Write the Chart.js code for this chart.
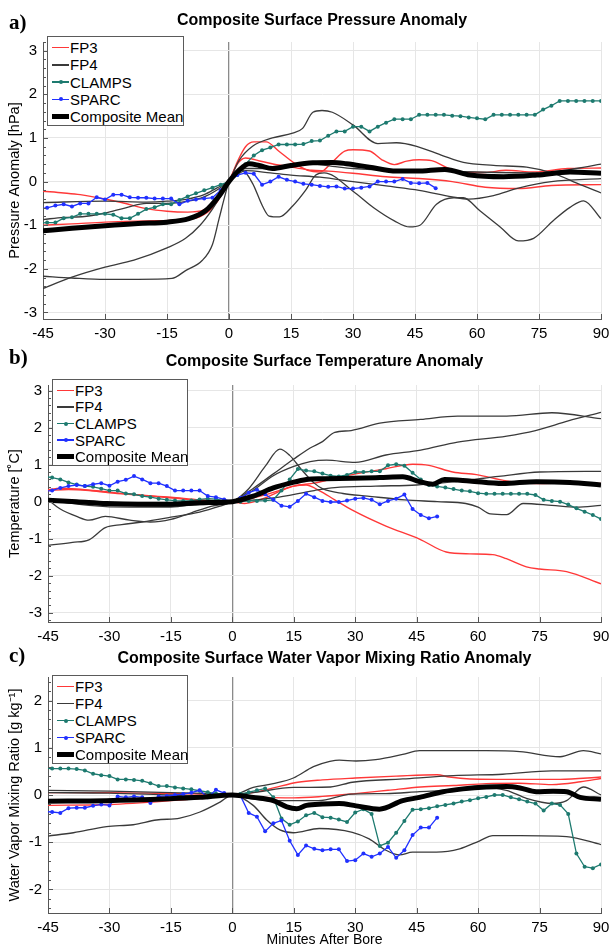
<!DOCTYPE html>
<html lang="en">
<head>
<meta charset="UTF-8">
<title>Composite Surface Anomalies</title>
<script src="https://cdn.jsdelivr.net/npm/chart.js"></script>
<style>
  body { margin: 0; background: #fff; font-family: 'Liberation Sans', Arial, sans-serif; color: #000; }
  .page { position: relative; width: 616px; height: 949px; overflow: hidden; }
  canvas { position: absolute; left: 0; }
  .tag { position: absolute; left: 9px; font-family: 'Liberation Serif', 'Times New Roman', serif; font-weight: bold; font-size: 21px; line-height: 1; transform: translateY(-50%); }
  .title { position: absolute; font-weight: bold; font-size: 16px; white-space: nowrap; transform: translate(-50%, -50%); }
  .legend { position: absolute; background: #fff; border: 1px solid #5a5a5a; box-sizing: border-box; }
  .row { position: absolute; left: 0; right: 0; height: 17px; font-size: 15px; line-height: 17px; white-space: nowrap; }
  .row span.txt { position: absolute; left: 22px; top: 0; }
  .sw { position: absolute; left: 4px; width: 17px; top: 50%; }
  .dot { position: absolute; left: 6.5px; width: 4px; height: 4px; border-radius: 50%; }
</style>
</head>
<body>
<div class="page" id="page"></div>

<script>
// ---- series labels & tick settings ----
const seriesLabels = ['FP3', 'FP4', 'CLAMPS', 'SPARC', 'Composite Mean'];
const xTicks = [-45, -30, -15, 0, 15, 30, 45, 60, 75, 90];

// CLAMPS / SPARC sampled every 2 min starting at -46 min
const sampleStart = -46;
const sampleStep = 2;

// ---- (a) surface pressure anomaly [hPa] ----
const pFP3 = [
  [[-45,-0.22],[-40,-0.26],[-36,-0.3],[-30,-0.4],[-26,-0.48],[-20,-0.62],[-15,-0.68],[-10,-0.7],[-6,-0.65],[-3,-0.48],[-1,-0.15],[0,0],[2,0.45],[4,0.8],[6,0.91],[9,0.91],[12,0.7],[16,0.41],[19,0.26],[22,0.22],[25,0.45],[28,0.7],[30,0.73],[34,0.7],[37,0.5],[40,0.39],[43,0.47],[46,0.5],[49,0.48],[53,0.31],[57,0.22],[62,0.21],[67,0.26],[74,0.22],[82,0.3],[90,0.31]],
  [[-45,-1.0],[-38,-0.97],[-30,-0.93],[-20,-0.9],[-12,-0.88],[-7,-0.8],[-4,-0.6],[-2,-0.3],[0,0],[2,0.4],[4,0.54],[8,0.46],[12,0.38],[16,0.32],[20,0.26],[24,0.24],[30,0.19],[38,0.11],[46,0.07],[54,0.0],[62,-0.13],[70,-0.16],[78,-0.09],[90,-0.07]]
];
const pFP4 = [
  [[-45,-2.45],[-38,-2.19],[-30,-1.96],[-23,-1.8],[-15,-1.52],[-10.5,-1.3],[-7,-1.0],[-4,-0.63],[-1.6,-0.26],[0,0],[2.4,0.48],[5.7,0.81],[10.5,1.0],[15.4,1.11],[17.8,1.22],[20.3,1.59],[22.5,1.63],[25,1.59],[30,1.3],[36,0.87],[40.5,0.89],[45.4,0.81],[51.8,0.59],[56.7,0.44],[64,0.37],[72,0.33],[78.5,0.19],[85,-0.07],[90,-0.26]],
  [[-45,-2.17],[-38,-2.21],[-30,-2.24],[-22,-2.24],[-13.8,-2.22],[-10.5,-2.04],[-6.5,-1.81],[-4,-1.44],[-2.4,-0.85],[-0.8,-0.26],[0,0],[3.2,0.26],[5.7,-0.04],[8.1,-0.56],[9.7,-0.79],[12.2,-0.81],[15.4,-0.56],[18.6,-0.19],[21,0.15],[23,0.2],[30,-0.22],[35,-0.6],[40,-0.9],[43.7,-1.04],[46.2,-1.0],[50.2,-0.52],[54.3,-0.37],[56.7,-0.37],[60.7,-0.67],[65.6,-1.04],[70,-1.36],[73.7,-1.3],[78.5,-0.89],[82.5,-0.59],[85.8,-0.44],[90,-0.85]],
  [[-45,-0.48],[-30,-0.45],[-20,-0.47],[-15,-0.45],[-10,-0.4],[-6,-0.3],[-3,-0.15],[0,0],[4,0.25],[10,0.2],[15,0.15],[22,0.1],[30,0.0],[38,-0.1],[46,-0.2],[54,-0.35],[58,-0.4],[64,-0.32],[70,-0.15],[78,0.0],[90,0.07]],
  [[-45,-0.87],[-40,-0.82],[-35,-0.8],[-30,-0.72],[-25,-0.6],[-20,-0.5],[-15,-0.5],[-10,-0.45],[-6,-0.35],[-3,-0.2],[0,0],[4,0.3],[10,0.3],[15,0.35],[20,0.4],[25,0.35],[30,0.3],[45,0.25],[60,0.22],[75,0.2],[84,0.3],[90,0.4]]
];
const pCLAMPS = [-0.95,-0.94,-0.94,-0.84,-0.82,-0.74,-0.74,-0.74,-0.74,-0.76,
  -0.84,-0.84,-0.74,-0.63,-0.59,-0.52,-0.52,-0.42,-0.34,-0.27,
  -0.2,-0.14,-0.07,0,0.15,0.4,0.6,0.72,0.78,0.85,
  0.85,0.85,0.86,0.93,0.94,1.05,1.15,1.15,1.26,1.26,
  1.15,1.26,1.35,1.43,1.43,1.43,1.53,1.53,1.53,1.53,
  1.51,1.5,1.47,1.45,1.43,1.53,1.53,1.53,1.53,1.53,
  1.53,1.65,1.74,1.85,1.85,1.85,1.85,1.85,1.85];
const pSPARC = [-0.63,-0.6,-0.55,-0.52,-0.57,-0.5,-0.5,-0.36,-0.41,-0.3,
  -0.3,-0.36,-0.37,-0.37,-0.39,-0.39,-0.39,-0.52,-0.44,-0.41,
  -0.39,-0.37,-0.2,0,0.15,0.2,0.18,-0.07,0.0,0.11,
  0.04,0.0,-0.05,-0.07,-0.1,-0.12,-0.11,-0.16,-0.16,-0.14,
  -0.11,0.0,0.0,0.0,0.06,-0.03,-0.04,-0.03,-0.15];
const pMean = [[-45,-1.13],[-38,-1.07],[-30,-1.01],[-22,-0.96],[-15,-0.93],[-9.7,-0.85],[-5.7,-0.67],[-2.4,-0.33],[0,0],[2.4,0.26],[4.9,0.41],[7.3,0.37],[10.5,0.3],[15,0.37],[20.3,0.43],[25,0.44],[28.4,0.41],[34,0.33],[40.5,0.24],[45.4,0.24],[52.2,0.28],[58.3,0.15],[66.4,0.11],[74.5,0.15],[82.5,0.22],[90,0.19]];

// ---- (b) surface temperature anomaly [C] ----
const tFP3 = [
  [[-45,0.3],[-40,0.33],[-35,0.3],[-30,0.24],[-22,0.17],[-14,0.09],[-8,0.03],[0,0],[5,0.1],[10,0.25],[15,0.42],[18,0.45],[21.2,0.3],[25,0.05],[29.3,-0.23],[37.5,-0.66],[45.7,-1.01],[52.2,-1.36],[57.9,-1.41],[63.6,-1.43],[66.9,-1.54],[71.8,-1.76],[75,-1.82],[81.6,-1.89],[90,-2.22]],
  [[-45,0.32],[-42,0.36],[-38,0.34],[-32,0.28],[-25,0.2],[-15,0.12],[-8,0.05],[0,0],[3,-0.05],[8,0.1],[12,0.3],[15,0.42],[20,0.5],[24,0.6],[29.3,0.73],[37.5,0.89],[44,1.01],[48,0.98],[53.8,0.8],[59.6,0.73],[66.9,0.56],[74.2,0.49],[82,0.5],[90,0.49]]
];
const tFP4 = [
  [[-45,-1.18],[-39,-1.1],[-35,-1.03],[-31,-0.7],[-27,-0.62],[-22,-0.55],[-15,-0.42],[-8,-0.28],[-3,-0.12],[0,0],[5,0.35],[10,0.75],[15,1.15],[19,1.45],[22,1.62],[25,1.87],[29,1.92],[36,2.12],[46,2.22],[55,2.31],[67,2.31],[78,2.4],[90,2.24]],
  [[-45,0.05],[-42,-0.2],[-38,-0.4],[-35,-0.5],[-31,-0.4],[-25,-0.5],[-20,-0.55],[-15,-0.48],[-10,-0.3],[-5,-0.12],[0,0],[4,0.35],[8,0.95],[11.6,1.42],[14,1.25],[17,0.85],[20,0.5],[22,0.35],[27,0.22],[33,0.15],[42,0.05],[50,0.0],[57,-0.05],[60,-0.15],[63,-0.33],[67,-0.35],[71,-0.05],[78,-0.1],[84,-0.15],[90,-0.1]],
  [[-45,0.0],[-35,-0.05],[-25,-0.1],[-15,-0.12],[-8,-0.08],[0,0],[5,0.3],[10,0.7],[15,0.95],[19,1.08],[23,1.12],[30,1.06],[37.5,1.26],[46,1.39],[55,1.61],[67,1.77],[74,1.92],[82,2.18],[90,2.41]],
  [[-45,0.05],[-35,-0.1],[-25,-0.15],[-15,-0.15],[-8,-0.05],[0,0],[10,0.1],[20,0.3],[25,0.38],[35,0.42],[45,0.45],[55,0.55],[65,0.68],[75,0.8],[90,0.82]]
];
const tCLAMPS = [0.68,0.65,0.6,0.52,0.46,0.42,0.4,0.35,0.3,0.3,
  0.22,0.2,0.15,0.12,0.08,0.05,0.03,0.02,0.03,0.06,
  0.08,0.07,0.03,0,0.0,0.02,0.02,0.03,0.05,0.3,
  0.6,0.88,0.84,0.82,0.76,0.7,0.68,0.72,0.8,0.8,
  0.82,0.82,0.98,1.01,0.97,0.78,0.6,0.45,0.41,0.38,
  0.34,0.3,0.28,0.23,0.21,0.21,0.21,0.21,0.21,0.21,
  0.18,0.05,0.02,0.0,-0.08,-0.18,-0.27,-0.36,-0.47];
const tSPARC = [0.28,0.3,0.37,0.42,0.45,0.42,0.47,0.5,0.43,0.54,
  0.59,0.69,0.6,0.5,0.5,0.42,0.3,0.3,0.3,0.3,
  0.15,0.12,0.06,0,0.1,0.24,0.32,0.2,0.05,-0.11,
  -0.14,0.02,0.21,0.12,0.02,-0.01,-0.01,0.03,0.08,0.1,
  0.05,-0.07,0.02,0.08,0.19,-0.2,-0.36,-0.45,-0.4];
const tMean = [[-45,0.04],[-38,0.0],[-30.7,-0.05],[-23,-0.07],[-15.6,-0.07],[-7.9,-0.03],[0,0],[5.1,0.15],[10,0.37],[14.1,0.5],[18.1,0.6],[22,0.62],[29.3,0.63],[36,0.65],[41.6,0.67],[45.7,0.54],[48.9,0.47],[51.8,0.6],[57.9,0.56],[66,0.49],[74.2,0.54],[82.4,0.52],[90,0.45]];

// ---- (c) surface water vapor mixing ratio anomaly [g/kg] ----
const qFP3 = [
  [[-45,0.05],[-30,0.05],[-15,0.03],[-5,0.02],[0,0],[5,0.05],[10,0.15],[16,0.27],[22,0.32],[30,0.36],[40,0.4],[50,0.43],[53,0.38],[58,0.34],[70,0.33],[80,0.33],[90,0.38]],
  [[-45,-0.22],[-30,-0.2],[-15,-0.12],[-5,-0.05],[0,0],[8,-0.05],[15,-0.06],[22,-0.03],[30,0.03],[38,0.1],[46,0.17],[54,0.2],[62,0.24],[70,0.25],[78,0.22],[85,0.28],[90,0.35]]
];
const qFP4 = [
  [[-45,0.1],[-30,0.08],[-15,0.05],[-5,0.03],[0,0],[5.1,0.16],[10,0.24],[14.9,0.36],[19.8,0.6],[23.8,0.71],[26.1,0.74],[30.2,0.72],[35,0.75],[41.6,0.86],[45.7,0.94],[54,0.94],[62,0.94],[70.2,0.92],[80,0.81],[85.7,0.94],[90,0.87]],
  [[-45,0.05],[-30,0.04],[-15,0.0],[-5,-0.02],[0,0],[5,0.05],[15,0.16],[24,0.17],[29.3,0.27],[41.6,0.34],[54,0.41],[66,0.44],[78,0.51],[90,0.51]],
  [[-45,-0.1],[-30,-0.1],[-15,-0.05],[0,0],[5,-0.08],[12,-0.12],[21,-0.12],[29,0.02],[37.5,0.03],[45.7,0.07],[55.5,0.11],[62,0.15],[66.9,0.1],[71.8,-0.07],[78.3,-0.18],[81.6,-0.12],[85.7,0.17],[90,0.0]],
  [[-45,-0.87],[-38.8,-0.8],[-30.7,-0.67],[-24.2,-0.63],[-18.5,-0.53],[-12.8,-0.49],[-7.9,-0.36],[-3,-0.15],[0,0],[5.1,-0.22],[8.4,-0.53],[11.6,-0.74],[14.9,-0.8],[21.2,-0.71],[29.3,-0.79],[33.4,-0.93],[37.5,-1.17],[40.8,-1.27],[44,-1.21],[49.8,-1.21],[55.5,-1.14],[60.4,-0.97],[63.6,-0.86],[70.2,-0.86],[81.6,-0.88],[90,-1.05]]
];
const qCLAMPS = [0.57,0.56,0.56,0.56,0.55,0.52,0.45,0.42,0.4,0.33,
  0.33,0.32,0.3,0.25,0.19,0.19,0.16,0.14,0.12,0.09,
  0.06,0.03,0.02,0,0.02,0.06,0.1,0.14,-0.05,-0.5,
  -0.63,-0.56,-0.43,-0.38,-0.47,-0.48,-0.52,-0.57,-0.37,-0.3,
  -0.4,-1.08,-1.01,-0.8,-0.55,-0.31,-0.3,-0.28,-0.24,-0.21,
  -0.18,-0.14,-0.11,-0.07,-0.04,0.0,0.0,-0.05,-0.09,-0.14,
  -0.18,-0.33,-0.18,-0.21,-0.4,-1.24,-1.52,-1.55,-1.47];
const qSPARC = [-0.35,-0.36,-0.38,-0.28,-0.27,-0.27,-0.23,-0.2,-0.22,-0.03,
  -0.05,-0.03,-0.05,-0.17,-0.03,-0.02,0.0,0.02,0.05,0.1,
  -0.05,0.11,0.04,0,-0.02,-0.38,-0.46,-0.77,-0.6,-0.54,
  -0.97,-1.27,-1.07,-1.14,-1.17,-1.15,-1.15,-1.4,-1.38,-1.24,
  -1.31,-1.24,-1.1,-1.33,-1.17,-0.85,-0.69,-0.69,-0.48];
const qMean = [[-45,-0.13],[-30.7,-0.12],[-15.6,-0.08],[-7.9,-0.05],[0,0],[5.1,-0.05],[10,-0.12],[13.3,-0.25],[15.7,-0.29],[18.1,-0.22],[22,-0.19],[26.1,-0.18],[30.2,-0.23],[35.9,-0.3],[41.6,-0.12],[45.7,-0.05],[51.4,0.07],[56.3,0.13],[62,0.17],[66.9,0.18],[70.2,0.15],[74.2,0.07],[78.3,0.08],[81.6,0.07],[84.9,-0.05],[90,-0.09]];

// ---- styling ----
const colors = { fp3: '#ff3838', fp4: '#3a3a3a', clamps: '#1d7a6f', sparc: '#2030ff', mean: '#000000' };

// panel layout (page pixels)
const panels = [
  { tag: 'a)', title: 'Composite Surface Pressure Anomaly', tagY: 22, titleY: 20,
    top: 27, height: 318, padTop: 5, yWidth: 43, xHeight: 26, ymin: -3.15, ymax: 3.2,
    ylabel: 'Pressure Anomaly [hPa]', xlabel: '',
    fp3: pFP3, fp4: pFP4, clamps: pCLAMPS, sparc: pSPARC, mean: pMean,
    legend: { left: 47, top: 36, width: 137, height: 90 } },
  { tag: 'b)', title: 'Composite Surface Temperature Anomaly', tagY: 357, titleY: 361,
    top: 370, height: 282, padTop: 8, yWidth: 48, xHeight: 30, ymin: -3.25, ymax: 3.15,
    ylabel: 'Temperature [\u02DAC]', xlabel: '',
    fp3: tFP3, fp4: tFP4, clamps: tCLAMPS, sparc: tSPARC, mean: tMean,
    legend: { left: 52, top: 379, width: 136, height: 87 } },
  { tag: 'c)', title: 'Composite Surface Water Vapor Mixing Ratio Anomaly', tagY: 655, titleY: 658,
    top: 662, height: 287, padTop: 8, yWidth: 48, xHeight: 36, ymin: -2.5, ymax: 2.5,
    ylabel: 'Water Vapor Mixing Ratio [g kg\u207B\u00B9]', xlabel: 'Minutes After Bore',
    fp3: qFP3, fp4: qFP4, clamps: qCLAMPS, sparc: qSPARC, mean: qMean,
    legend: { left: 52, top: 675, width: 136, height: 89 } }
];

Chart.defaults.font.family = "'Liberation Sans', Arial, sans-serif";
Chart.defaults.color = '#000';

function pairsToPoints(pairs) { return pairs.map(p => ({ x: p[0], y: p[1] })); }
function sampled(vals) { return vals.map((v, i) => ({ x: sampleStart + i * sampleStep, y: v })); }

// MATLAB-style inward tick marks (minor every 0.2 on y)
const innerTicks = {
  id: 'innerTicks',
  afterDatasetsDraw(chart) {
    const { ctx, chartArea, scales } = chart;
    const x = scales.x, y = scales.y;
    ctx.save();
    ctx.strokeStyle = '#555';
    ctx.lineWidth = 1;
    ctx.beginPath();
    for (let k = Math.ceil(y.min * 5); k <= Math.floor(y.max * 5); k++) {
      const py = Math.round(y.getPixelForValue(k / 5)) + 0.5;
      const len = k % 5 === 0 ? 5 : 3;
      ctx.moveTo(chartArea.left, py);
      ctx.lineTo(chartArea.left + len, py);
    }
    xTicks.forEach(t => {
      const px = Math.round(x.getPixelForValue(t)) + 0.5;
      ctx.moveTo(px, chartArea.bottom);
      ctx.lineTo(px, chartArea.bottom - 5);
    });
    ctx.stroke();
    ctx.restore();
  }
};

function buildDatasets(p) {
  const sets = [];
  p.fp3.forEach(line => sets.push({ data: pairsToPoints(line), borderColor: colors.fp3, borderWidth: 1.4,
    pointRadius: 0, cubicInterpolationMode: 'monotone', order: 4 }));
  p.fp4.forEach(line => sets.push({ data: pairsToPoints(line), borderColor: colors.fp4, borderWidth: 1.3,
    pointRadius: 0, cubicInterpolationMode: 'monotone', order: 3 }));
  sets.push({ data: sampled(p.clamps), borderColor: colors.clamps, backgroundColor: colors.clamps, borderWidth: 1.3,
    pointRadius: 2, pointBorderWidth: 0, tension: 0, order: 2 });
  sets.push({ data: sampled(p.sparc), borderColor: colors.sparc, backgroundColor: colors.sparc, borderWidth: 1.3,
    pointRadius: 2, pointBorderWidth: 0, tension: 0, order: 1 });
  sets.push({ data: pairsToPoints(p.mean), borderColor: colors.mean, borderWidth: 5,
    pointRadius: 0, cubicInterpolationMode: 'monotone', order: 0 });
  return sets;
}

const page = document.getElementById('page');

panels.forEach(p => {
  const canvas = document.createElement('canvas');
  canvas.width = 616;
  canvas.height = p.height;
  canvas.style.top = p.top + 'px';
  page.appendChild(canvas);

  // integer labels only on the y axis
  const yTicks = [];
  for (let v = Math.ceil(p.ymin); v <= Math.floor(p.ymax); v++) yTicks.push(v);

  new Chart(canvas, {
    type: 'line',
    data: { datasets: buildDatasets(p) },
    options: {
      responsive: false,
      animation: false,
      layout: { padding: { top: p.padTop, right: 15, left: 0, bottom: 0 } },
      plugins: { legend: { display: false }, tooltip: { enabled: false } },
      scales: {
        x: {
          type: 'linear', min: -45, max: 90,
          afterFit: s => { s.height = p.xHeight; },
          afterBuildTicks: s => { s.ticks = xTicks.map(v => ({ value: v })); },
          ticks: { font: { size: 15 }, color: '#000', padding: 6, maxRotation: 0, autoSkip: false },
          grid: {
            drawTicks: false,
            color: c => (c.tick && c.tick.value === 0) ? '#8a8a8a' : '#e6e6e6',
            lineWidth: c => (c.tick && c.tick.value === 0) ? 1.3 : 1
          },
          border: { color: '#555' },
          title: { display: !!p.xlabel, text: p.xlabel, font: { size: 14 }, color: '#000', padding: { top: 0, bottom: 0 } }
        },
        y: {
          min: p.ymin, max: p.ymax,
          afterFit: s => { s.width = p.yWidth; },
          afterBuildTicks: s => { s.ticks = yTicks.map(v => ({ value: v })); },
          ticks: { font: { size: 15 }, color: '#000', padding: 6, autoSkip: false },
          grid: { drawTicks: false, color: '#e6e6e6' },
          border: { color: '#555' },
          title: { display: true, text: p.ylabel, font: { size: 14.5 }, color: '#000', padding: { top: 6, bottom: 0 } }
        }
      }
    },
    plugins: [innerTicks]
  });

  // panel letter and title
  const tag = document.createElement('div');
  tag.className = 'tag';
  tag.style.top = p.tagY + 'px';
  tag.textContent = p.tag;
  page.appendChild(tag);

  const title = document.createElement('div');
  title.className = 'title';
  title.style.left = (p.yWidth + 601) / 2 + 'px';
  title.style.top = p.titleY + 'px';
  title.textContent = p.title;
  page.appendChild(title);

  // legend box
  const lg = document.createElement('div');
  lg.className = 'legend';
  Object.assign(lg.style, { left: p.legend.left + 'px', top: p.legend.top + 'px',
    width: p.legend.width + 'px', height: p.legend.height + 'px' });
  const swatches = [
    { color: colors.fp3, w: 1.5, dot: false },
    { color: colors.fp4, w: 1.4, dot: false },
    { color: colors.clamps, w: 1.3, dot: true },
    { color: colors.sparc, w: 1.3, dot: true },
    { color: colors.mean, w: 5, dot: false }
  ];
  const rowGap = (p.legend.height - 4) / seriesLabels.length;
  seriesLabels.forEach((label, i) => {
    const row = document.createElement('div');
    row.className = 'row';
    row.style.top = (2 + i * rowGap + rowGap / 2 - 8.5) + 'px';
    const s = swatches[i];
    const sw = document.createElement('div');
    sw.className = 'sw';
    sw.style.height = s.w + 'px';
    sw.style.marginTop = (-s.w / 2) + 'px';
    sw.style.background = s.color;
    if (s.dot) {
      const d = document.createElement('div');
      d.className = 'dot';
      d.style.background = s.color;
      d.style.top = (s.w / 2 - 2) + 'px';
      sw.appendChild(d);
    }
    const txt = document.createElement('span');
    txt.className = 'txt';
    txt.textContent = label;
    row.appendChild(sw);
    row.appendChild(txt);
    lg.appendChild(row);
  });
  page.appendChild(lg);
});
</script>
</body>
</html>
